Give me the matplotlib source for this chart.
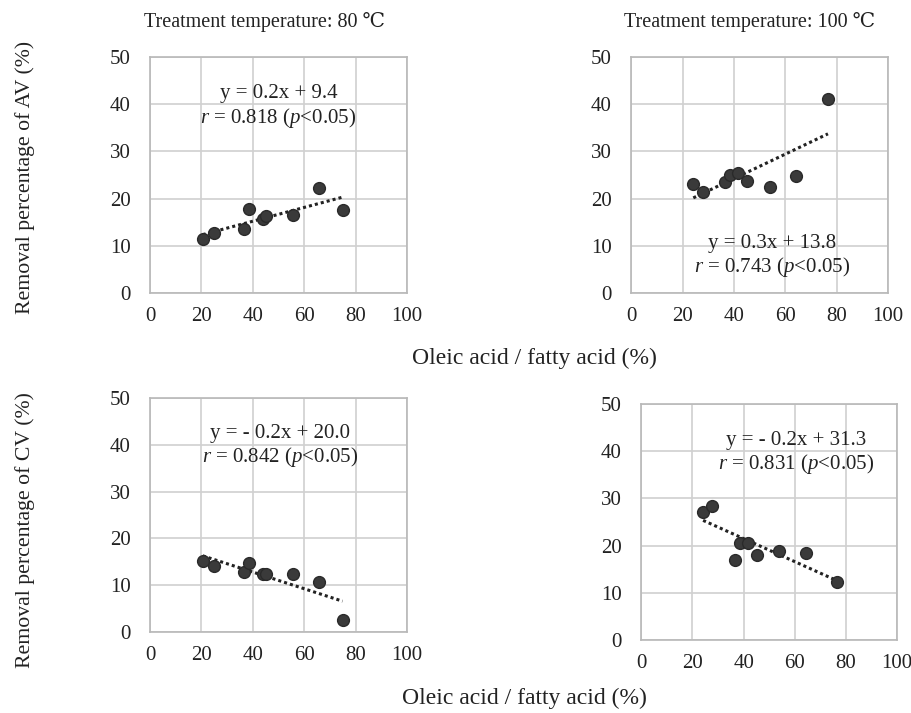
import numpy as np
import matplotlib
matplotlib.use("Agg")
import matplotlib.pyplot as plt

plt.rcParams['font.family'] = ['Liberation Serif', 'DejaVu Serif', 'DejaVu Sans']
plt.rcParams['mathtext.fontset'] = 'custom'
plt.rcParams['mathtext.it'] = 'Liberation Serif:italic'
plt.rcParams['mathtext.rm'] = 'Liberation Serif'

# Oleic acid / fatty acid (%) for each treatment temperature
x_80 = [20.5, 24.9, 36.6, 38.6, 44.0, 45.3, 55.5, 65.8, 74.9]
x_100 = [24.2, 27.8, 36.5, 38.5, 41.7, 45.2, 54.0, 64.3, 76.6]

# Removal percentage of AV (%)
av_80 = [11.4, 12.7, 13.5, 17.7, 15.6, 16.4, 16.6, 22.2, 17.6]
av_100 = [23.0, 21.5, 23.6, 25.0, 25.5, 23.7, 22.5, 24.9, 41.2]

# Removal percentage of CV (%)
cv_80 = [15.2, 14.1, 12.8, 14.8, 12.3, 12.5, 12.3, 10.6, 2.5]
cv_100 = [27.2, 28.4, 17.0, 20.6, 20.6, 18.1, 18.9, 18.4, 12.2]

titles = ["Treatment temperature: 80 \u2103", "Treatment temperature: 100 \u2103"]
eq_labels = ["y = 0.2x + 9.4", "y = 0.3x + 13.8", "y = - 0.2x + 20.0", "y = - 0.2x + 31.3"]
r_labels = ["0.818", "0.743", "0.842", "0.831"]

txt = '#222222'
fig = plt.figure(figsize=(9.12, 7.13), dpi=100)

# [left, bottom, width, height] of each panel
boxes = [
    [0.1645, 0.589, 0.2818, 0.331],
    [0.692, 0.589, 0.2818, 0.331],
    [0.1645, 0.1136, 0.2818, 0.328],
    [0.703, 0.1024, 0.2808, 0.331],
]
xs = [x_80, x_100, x_80, x_100]
ys = [av_80, av_100, cv_80, cv_100]
# text anchor positions in data coords (x, y of equation, y of r line)
text_pos = [(50, 42.3, 37.0), (55, 10.4, 5.6), (50.5, 42.5, 37.5), (60.5, 42.2, 37.2)]

for i in range(4):
    ax = fig.add_axes(boxes[i])
    x = np.array(xs[i])
    y = np.array(ys[i])
    k, b = np.polyfit(x, y, 1)
    xl = np.array([x.min(), x.max()])
    ax.plot(xl, k * xl + b, linestyle=(0, (1, 1)), color='#222222', lw=2.2, zorder=2)
    ax.plot(x, y, 'o', color='#3a3a3a', markersize=8.5, markeredgecolor='#2a2a2a', zorder=3)

    ax.set_xlim(0, 100)
    ax.set_ylim(0, 50)
    ax.set_xticks(range(0, 101, 20))
    ax.set_yticks(range(0, 51, 10))
    ax.grid(True, color='#d0d0d0', lw=1.2)
    ax.set_axisbelow(True)
    for s in ax.spines.values():
        s.set_color('#b8b8b8')
        s.set_linewidth(1.2)
    ax.tick_params(length=0, labelsize=15, colors=txt)
    ax.tick_params(axis='x', pad=10)
    ax.tick_params(axis='y', pad=14)

    tx, ty1, ty2 = text_pos[i]
    ax.text(tx, ty1, eq_labels[i], ha='center', va='center', fontsize=15, color=txt)
    ax.text(tx, ty2, r"$\mathit{r}$ = " + r_labels[i] + r" ($\mathit{p}$<0.05)",
            ha='center', va='center', fontsize=15, color=txt)

fig.text(264 / 912, 1 - 22 / 713, titles[0], ha='center', va='center', fontsize=14.5, color=txt)
fig.text(750 / 912, 1 - 22 / 713, titles[1], ha='center', va='center', fontsize=14.5, color=txt)

fig.text(25 / 912, 1 - 177 / 713, "Removal percentage of AV (%)", rotation=90,
         ha='center', va='center', fontsize=15.7, color=txt)
fig.text(25 / 912, 1 - 530 / 713, "Removal percentage of CV (%)", rotation=90,
         ha='center', va='center', fontsize=15.7, color=txt)
fig.text(534 / 912, 1 - 358 / 713, "Oleic acid / fatty acid (%)",
         ha='center', va='center', fontsize=17, color=txt)
fig.text(524 / 912, 1 - 698 / 713, "Oleic acid / fatty acid (%)",
         ha='center', va='center', fontsize=17, color=txt)

fig.savefig("out.png", dpi=100)
